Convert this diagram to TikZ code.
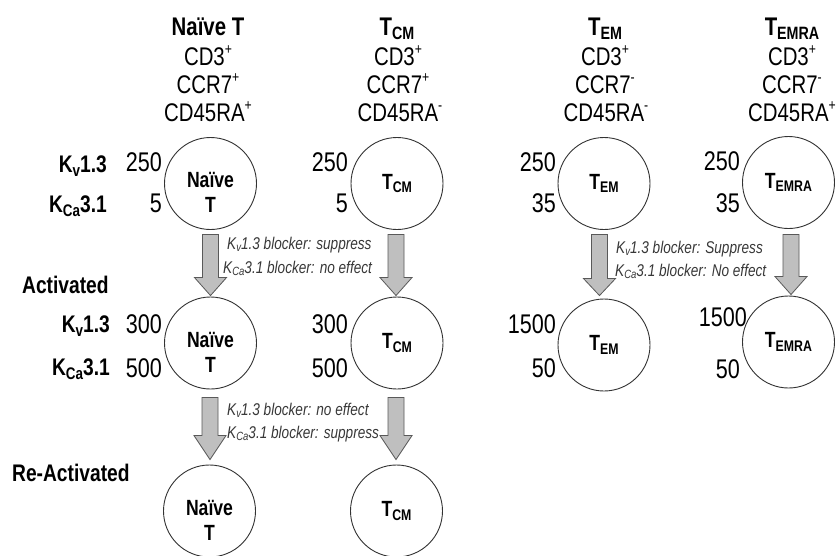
\documentclass[tikz,border=0pt]{standalone}
\usepackage{fontspec}
\setmainfont[FakeStretch=0.8]{Liberation Sans}
\usetikzlibrary{calc}

% small lowered / raised text for subscripts and +/- marks
\newcommand\lowsub[1]{\raisebox{-0.32ex}{\scalebox{0.7}{#1}}}
\newcommand\upsup[1]{\raisebox{0.8ex}{\scalebox{0.6}{#1}}}

% block arrow from the bottom of one cell to the top of the next
% #1 from, #2 to, #3 gap below source, #4 gap above target, #5 head length, #6 x shift
\newcommand\blockarrow[6]{%
  \draw[blockarr] let \p1=($(#1.south)+(0,#3)$), \p2=($(#2.north)+(#6,-#4)$) in
    (\x2-8pt,\y1) -- (\x2+8pt,\y1) -- (\x2+8pt,\y2+#5pt) -- (\x2+16pt,\y2+#5pt)
    -- (\x2,\y2) -- (\x2-16pt,\y2+#5pt) -- (\x2-8pt,\y2+#5pt) -- cycle;}

\begin{document}
\begin{tikzpicture}[x=1pt,y=-1pt,
  cell/.style={circle,draw=black!80,line width=0.9pt,minimum size=92pt,inner sep=0pt},
  celltext/.style={font=\fontsize{22pt}{25pt}\selectfont\bfseries,align=center,inner sep=0pt},
  head/.style={font=\fontsize{25.5pt}{28pt}\selectfont,anchor=base,inner sep=0pt},
  headbold/.style={head,font=\fontsize{25.5pt}{28pt}\selectfont\bfseries},
  rowlab/.style={font=\fontsize{24pt}{28pt}\selectfont\bfseries,anchor=base east,inner sep=0pt},
  stage/.style={font=\fontsize{24pt}{28pt}\selectfont\bfseries,anchor=base west,inner sep=0pt},
  val/.style={font=\fontsize{27pt}{30pt}\selectfont,anchor=base east,inner sep=0pt},
  note/.style={font=\fontsize{17pt}{20pt}\selectfont\itshape,text=black!78,anchor=base west,inner sep=0pt},
  blockarr/.style={fill=black!25,draw=black!65,line width=0.8pt,line join=miter}]

\fill[white] (0,0) rectangle (839,555);
\useasboundingbox (0,0) rectangle (839,555);

% ---- column headings ----
\node[headbold] (hn0) at (208,35) {Naïve T};
\node[head] (hn1) at (208,65) {CD3\upsup{+}};
\node[head] (hn2) at (208,93) {CCR7\upsup{+}};
\node[head] (hn3) at (208,121) {CD45RA\upsup{+}};

\node[headbold] (hc0) at (397,35) {T\lowsub{CM}};
\node[head] (hc1) at (398,65) {CD3\upsup{+}};
\node[head] (hc2) at (398,93) {CCR7\upsup{+}};
\node[head] (hc3) at (400,121) {CD45RA\upsup{-}};

\node[headbold] (he0) at (605,35) {T\lowsub{EM}};
\node[head] (he1) at (605,65) {CD3\upsup{+}};
\node[head] (he2) at (605,93) {CCR7\upsup{-}};
\node[head] (he3) at (606,121) {CD45RA\upsup{-}};

\node[headbold] (hr0) at (792,35) {T\lowsub{EMRA}};
\node[head] (hr1) at (792,65) {CD3\upsup{+}};
\node[head] (hr2) at (792,93) {CCR7\upsup{-}};
\node[head] (hr3) at (792,121) {CD45RA\upsup{+}};

% ---- row labels ----
\node[rowlab] (kv1) at (107,172) {K\lowsub{v}1.3};
\node[rowlab] (kc1) at (107,212) {K\lowsub{Ca}3.1};
\node[stage] (act) at (22,293) {Activated};
\node[rowlab] (kv2) at (110,332) {K\lowsub{v}1.3};
\node[rowlab] (kc2) at (110,375) {K\lowsub{Ca}3.1};
\node[stage] (react) at (12,481) {Re-Activated};

% ---- cells ----
\node[cell] (n1) at (210.5,183.5) {};
\node[cell] (c1) at (397,183.5) {};
\node[cell] (e1) at (604,183.5) {};
\node[cell] (r1) at (788.5,182.5) {};
\node[cell] (n2) at (210.5,343) {};
\node[cell] (c2) at (397,343) {};
\node[cell] (e2) at (604,345) {};
\node[cell] (r2) at (788.5,342) {};
\node[cell] (n3) at (209.5,511) {};
\node[cell] (c3) at (396.5,511) {};

\node[celltext] (n1t) at ($(n1)+(0,9)$) {Naïve\\T};
\node[celltext] (c1t) at (c1) {T\lowsub{CM}};
\node[celltext] (e1t) at (e1) {T\lowsub{EM}};
\node[celltext] (r1t) at (r1) {T\lowsub{EMRA}};
\node[celltext] (n2t) at ($(n2)+(0,9)$) {Naïve\\T};
\node[celltext] (c2t) at (c2) {T\lowsub{CM}};
\node[celltext] (e2t) at (e2) {T\lowsub{EM}};
\node[celltext] (r2t) at (r2) {T\lowsub{EMRA}};
\node[celltext] (n3t) at ($(n3)+(0,9)$) {Naïve\\T};
\node[celltext] (c3t) at (c3) {T\lowsub{CM}};

% ---- channel counts ----
\node[val] (vn1a) at (162,171) {250};
\node[val] (vn1b) at (162,212) {5};
\node[val] (vc1a) at (348,171) {250};
\node[val] (vc1b) at (348,212) {5};
\node[val] (ve1a) at (556,171) {250};
\node[val] (ve1b) at (556,212) {35};
\node[val] (vr1a) at (740,170) {250};
\node[val] (vr1b) at (740,212) {35};

\node[val] (vn2a) at (162,333) {300};
\node[val] (vn2b) at (162,377) {500};
\node[val] (vc2a) at (348,333) {300};
\node[val] (vc2b) at (348,377) {500};
\node[val] (ve2a) at (556,333) {1500};
\node[val] (ve2b) at (556,377) {50};
\node[val] (vr2a) at (747,326) {1500};
\node[val] (vr2b) at (740,378) {50};

% ---- transitions ----
\blockarrow{n1}{n2}{4.5}{1}{18}{0}
\blockarrow{c1}{c2}{4.5}{1}{18}{-1}
\blockarrow{e1}{e2}{4.5}{3}{17}{-4.5}
\blockarrow{r1}{r2}{5.5}{1}{18}{2.5}
\blockarrow{n2}{n3}{8}{5}{24}{0.5}
\blockarrow{c2}{c3}{8}{5}{24}{-0.5}

% ---- blocker notes ----
\node[note] (na1) at (227,249) {K\lowsub{v}1.3 blocker: suppress};
\node[note] (na2) at (223,273) {K\lowsub{Ca}3.1 blocker: no effect};
\node[note] (nb1) at (227,415) {K\lowsub{v}1.3 blocker: no effect};
\node[note] (nb2) at (227,438) {K\lowsub{Ca}3.1 blocker: suppress};
\node[note] (nc1) at (616,253) {K\lowsub{v}1.3 blocker: Suppress};
\node[note] (nc2) at (615,276) {K\lowsub{Ca}3.1 blocker: No effect};

\end{tikzpicture}
\end{document}
